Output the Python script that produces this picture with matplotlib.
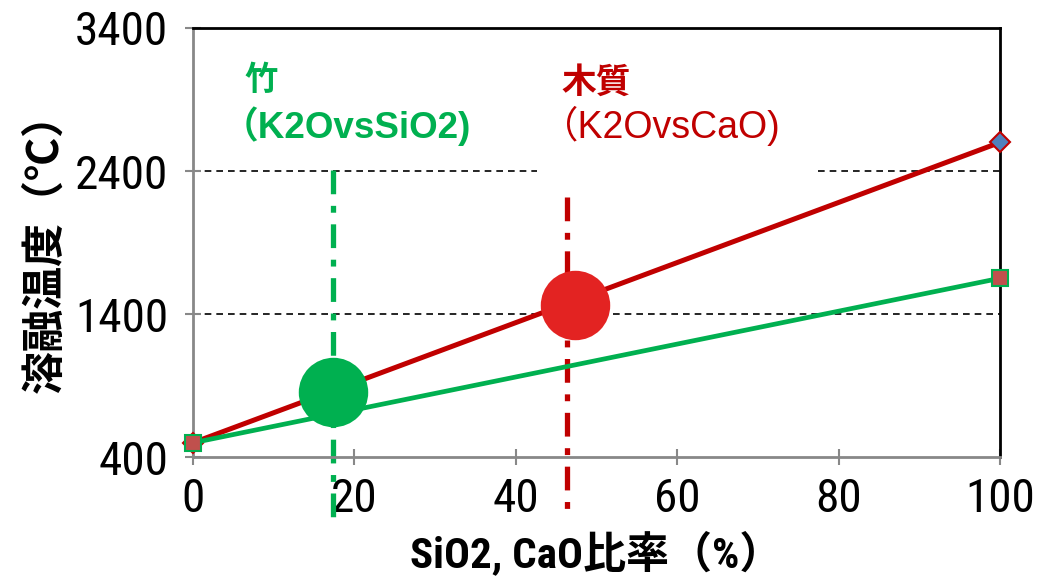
import matplotlib.pyplot as plt

# data
x_ends = [0, 100]
wood_temp = [500, 2600]      # 木質 (K2O vs CaO)
bamboo_temp = [500, 1650]    # 竹 (K2O vs SiO2)

bamboo_pt = (17.4, 855)
wood_pt = (47.3, 1460)
bamboo_vline = 17.3
wood_vline = 46.3

y_ticks = [400, 1400, 2400, 3400]
x_ticks = [0, 20, 40, 60, 80, 100]

narrow = ['Roboto Condensed', 'Liberation Sans Narrow', 'DejaVu Sans', 'Noto Sans CJK JP']
cjk = ['Noto Sans CJK JP', 'DejaVu Sans']
latin = ['Liberation Sans', 'Noto Sans CJK JP']

GREEN = '#00B050'
RED = '#C00000'

fig = plt.figure(figsize=(10.46, 5.83), dpi=100)
ax = fig.add_axes([0.1845, 0.216, 0.7715, 0.736])

ax.set_xlim(0, 100)
ax.set_ylim(400, 3400)

# dashed gridlines (the upper one is broken behind the red label)
ax.axhline(1400, color='black', lw=1.2, ls=(0, (4, 3)), zorder=1)
ax.axhline(2400, xmin=0, xmax=0.426, color='black', lw=1.2, ls=(0, (4, 3)), zorder=1)
ax.axhline(2400, xmin=0.775, xmax=1, color='black', lw=1.2, ls=(0, (4, 3)), zorder=1)

# vertical dash-dot markers, running past the x axis
ax.plot([bamboo_vline, bamboo_vline], [2410, -40], color=GREEN, lw=3.8,
        ls=(0, (4.5, 2.2, 1.3, 2.2)), clip_on=False, zorder=2)
ax.plot([wood_vline, wood_vline], [2220, -20], color=RED, lw=3.8,
        ls=(0, (4.5, 2.2, 1.3, 2.2)), clip_on=False, zorder=2)

ax.plot(x_ends, wood_temp, color=RED, lw=3.6, marker='D', markersize=10,
        markerfacecolor='#4F81BD', markeredgecolor=RED, markeredgewidth=1.5,
        clip_on=False, zorder=3)
ax.plot(x_ends, bamboo_temp, color=GREEN, lw=3.4, marker='s', markersize=12,
        markerfacecolor='#C0504D', markeredgecolor=GREEN, markeredgewidth=1.5,
        clip_on=False, zorder=4)

ax.plot(*bamboo_pt, 'o', markersize=50, color=GREEN, markeredgewidth=0, zorder=5)
ax.plot(*wood_pt, 'o', markersize=50, color='#E32322', markeredgewidth=0, zorder=5)

# labels
ax.text(0.064, 0.915, '竹', transform=ax.transAxes, color=GREEN, fontsize=24,
        fontweight='bold', family=cjk, va='top', ha='left')
ax.text(0.036, 0.772, '（K2OvsSiO2)', transform=ax.transAxes, color=GREEN, fontsize=26.5,
        fontweight='bold', family=latin, va='center', ha='left')
ax.text(0.457, 0.915, '木質', transform=ax.transAxes, color=RED, fontsize=25,
        fontweight='bold', family=cjk, va='top', ha='left')
ax.text(0.431, 0.772, '（K2OvsCaO)', transform=ax.transAxes, color=RED, fontsize=27,
        family=latin, va='center', ha='left')

ax.set_yticks(y_ticks)
ax.set_xticks(x_ticks)
ax.tick_params(direction='inout', length=12, width=1.5, color='#888888')
for lab in ax.get_xticklabels() + ax.get_yticklabels():
    lab.set_family(narrow)
    lab.set_stretch('condensed')
    lab.set_fontsize(34)
ax.tick_params(axis='y', pad=12)
ax.tick_params(axis='x', pad=8)

ax.set_xlabel('SiO2, CaO比率（%）', family=narrow, fontstretch='condensed', fontsize=31,
              fontweight='bold', labelpad=8)
ax.set_ylabel('溶融温度（℃）', family=cjk, fontsize=31, fontweight='bold', labelpad=6)

for side in ['left', 'bottom']:
    ax.spines[side].set_color('#888888')
    ax.spines[side].set_linewidth(2)
for side in ['top', 'right']:
    ax.spines[side].set_color('black')
    ax.spines[side].set_linewidth(2)

fig.savefig('out.png', dpi=100)
